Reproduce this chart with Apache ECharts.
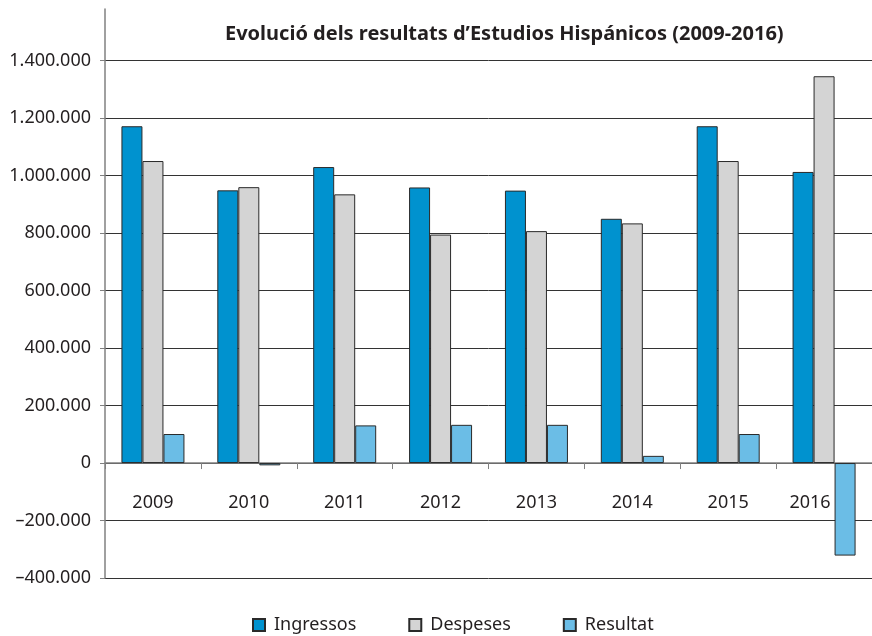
<!DOCTYPE html>
<html>
<head>
<meta charset="utf-8">
<script src="https://cdn.jsdelivr.net/npm/echarts@6/dist/echarts.min.js"></script>
<style>
  html, body { margin: 0; padding: 0; background: #fff; }
  #chart { width: 872px; height: 636px; }
</style>
</head>
<body>
<div id="chart"></div>
<script>
// data
const years = ["2009", "2010", "2011", "2012", "2013", "2014", "2015", "2016"];
const ingressos = [1172000, 949000, 1030000, 959000, 948000, 850000, 1172000, 1013000];
const despeses = [1051000, 960000, 935000, 795000, 807000, 834000, 1051000, 1346000];
const resultat = [101000, -8000, 131000, 133000, 133000, 25000, 101000, -322000];

const font = "Noto Sans";
const textColor = "#231f20";

// thousands with dots, minus as en dash like the original
function fmt(v) {
  if (v % 200000 !== 0) return "";
  const s = Math.abs(v).toString().replace(/\B(?=(\d{3})+(?!\d))/g, ".");
  return (v < 0 ? "\u2013" : "") + s;
}

var chartDom = document.getElementById("chart");
var myChart = echarts.init(chartDom);

function barSeries(name, data, color) {
  return {
    name: name,
    type: "bar",
    data: data,
    barWidth: 21,
    barGap: "0%",
    itemStyle: { color: color, borderColor: "#2a2a2a", borderWidth: 1 },
  };
}

var option = {
  animation: false,
  textStyle: { fontFamily: font },
  title: {
    text: "Evolució dels resultats d\u2019Estudios Hispánicos (2009-2016)",
    left: 220,
    top: 19,
    textStyle: { fontFamily: font, fontSize: 20, fontWeight: "bold", color: textColor },
  },
  legend: {
    data: ["Ingressos", "Despeses", "Resultat"],
    left: 247,
    bottom: -3,
    icon: "rect",
    itemWidth: 12,
    itemHeight: 12,
    itemGap: 52,
    textStyle: { fontFamily: font, fontSize: 18, color: textColor, padding: [0, 0, 0, 4] },
  },
  grid: { left: 105, right: 0, top: 9, bottom: 58 },
  xAxis: {
    type: "category",
    data: years,
    axisLine: { onZero: true, lineStyle: { color: "#808080", width: 1.5 } },
    axisTick: { show: true, length: 6, lineStyle: { color: "#808080" } },
    // labels sit in the band under the zero line
    axisLabel: {
      margin: -84,
      fontSize: 18,
      color: textColor,
      fontFamily: font,
      // last label is pushed left of the negative bar, like the original
      formatter: (v, i) => (i === years.length - 1 ? "{s|" + v + "}" : v),
      rich: { s: { fontSize: 18, fontFamily: font, color: textColor, padding: [0, 28, 0, 0] } },
    },
    splitLine: { show: false },
  },
  yAxis: {
    type: "value",
    min: -400000,
    max: 1580000,
    interval: 200000,
    axisLine: { show: true, lineStyle: { color: "#808080", width: 1.5 } },
    axisTick: { show: true, length: 5, lineStyle: { color: "#808080" } },
    axisLabel: {
      margin: 14,
      fontSize: 18,
      color: textColor,
      fontFamily: font,
      showMaxLabel: false,
      formatter: fmt,
    },
    splitLine: { show: true, showMaxLine: false, lineStyle: { color: "#333", width: 1 } },
  },
  series: [
    barSeries("Ingressos", ingressos, "#0092cf"),
    barSeries("Despeses", despeses, "#d4d4d4"),
    barSeries("Resultat", resultat, "#6bbde6"),
  ],
};

option && myChart.setOption(option);
</script>
</body>
</html>
